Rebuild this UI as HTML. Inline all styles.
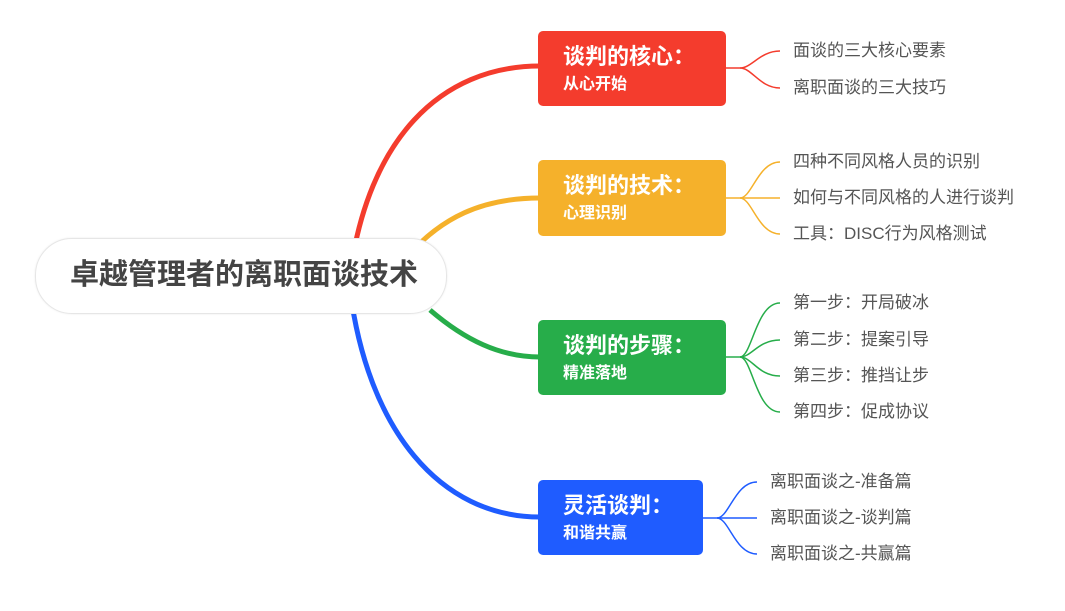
<!DOCTYPE html>
<html><head><meta charset="utf-8"><style>
body{margin:0;width:1065px;height:611px;background:#fff;position:relative;overflow:hidden;font-family:"Liberation Sans","Noto Sans CJK SC",sans-serif}
.box{position:absolute;border-radius:5px;color:#fff;font-weight:bold}
.box .t{position:absolute;left:25px;top:13px;font-size:22px;line-height:26px;white-space:nowrap}
.box .s{position:absolute;left:25px;top:44px;font-size:16px;line-height:20px;white-space:nowrap}
.c{position:absolute;font-size:17px;color:#555;line-height:20px;white-space:nowrap}
.pill{position:absolute;left:35px;top:238px;width:410px;height:74px;border-radius:37px;background:#fff;border:1px solid #e6e6e6;box-shadow:0 0 2px rgba(0,0,0,.08)}
.pill span{position:absolute;left:34px;top:19px;font-size:29px;font-weight:bold;color:#444;line-height:34px;white-space:nowrap}
</style></head><body>
<svg width="1065" height="611" style="position:absolute;left:0;top:0" fill="none">
<path d="M350,275 C368,140 440,66 540,66" stroke="#f43c2d" stroke-width="5"/>
<path d="M400,265 C440,215 485,198 540,198" stroke="#f5b12b" stroke-width="5"/>
<path d="M430,310 C465,340 500,357 540,357" stroke="#27ad4a" stroke-width="5"/>
<path d="M350,290 C368,430 440,517 540,517" stroke="#1f5cff" stroke-width="5"/>
<g stroke="#f43c2d" stroke-width="1.5"><path d="M726,68 H740 C752,68 760,51 780,51"/><path d="M740,68 C752,68 760,88 780,88"/></g>
<g stroke="#f5b12b" stroke-width="1.5"><path d="M726,198 H780"/><path d="M740,198 C752,198 758,162 780,162"/><path d="M740,198 C752,198 758,234 780,234"/></g>
<g stroke="#27ad4a" stroke-width="1.5"><path d="M726,357 H740"/><path d="M740,357 C752,357 756,303 780,303"/><path d="M740,357 C752,357 758,340 780,340"/><path d="M740,357 C752,357 758,376 780,376"/><path d="M740,357 C752,357 756,412 780,412"/></g>
<g stroke="#1f5cff" stroke-width="1.5"><path d="M703,518 H757"/><path d="M717,518 C729,518 735,482 757,482"/><path d="M717,518 C729,518 735,554 757,554"/></g>
</svg>
<div class="pill"><span>卓越管理者的离职面谈技术</span></div>
<div class="box" style="left:538px;top:31px;width:188px;height:75px;background:#f43c2d"><div class="t">谈判的核心：</div><div class="s">从心开始</div></div>
<div class="box" style="left:538px;top:160px;width:188px;height:76px;background:#f5b12b"><div class="t">谈判的技术：</div><div class="s">心理识别</div></div>
<div class="box" style="left:538px;top:320px;width:188px;height:75px;background:#27ad4a"><div class="t">谈判的步骤：</div><div class="s">精准落地</div></div>
<div class="box" style="left:538px;top:480px;width:165px;height:75px;background:#1f5cff"><div class="t">灵活谈判：</div><div class="s">和谐共赢</div></div>
<div class="c" style="left:793px;top:41px">面谈的三大核心要素</div>
<div class="c" style="left:793px;top:78px">离职面谈的三大技巧</div>
<div class="c" style="left:793px;top:152px">四种不同风格人员的识别</div>
<div class="c" style="left:793px;top:188px">如何与不同风格的人进行谈判</div>
<div class="c" style="left:793px;top:224px">工具：DISC行为风格测试</div>
<div class="c" style="left:793px;top:293px">第一步：开局破冰</div>
<div class="c" style="left:793px;top:330px">第二步：提案引导</div>
<div class="c" style="left:793px;top:366px">第三步：推挡让步</div>
<div class="c" style="left:793px;top:402px">第四步：促成协议</div>
<div class="c" style="left:770px;top:472px">离职面谈之-准备篇</div>
<div class="c" style="left:770px;top:508px">离职面谈之-谈判篇</div>
<div class="c" style="left:770px;top:544px">离职面谈之-共赢篇</div>
</body></html>
